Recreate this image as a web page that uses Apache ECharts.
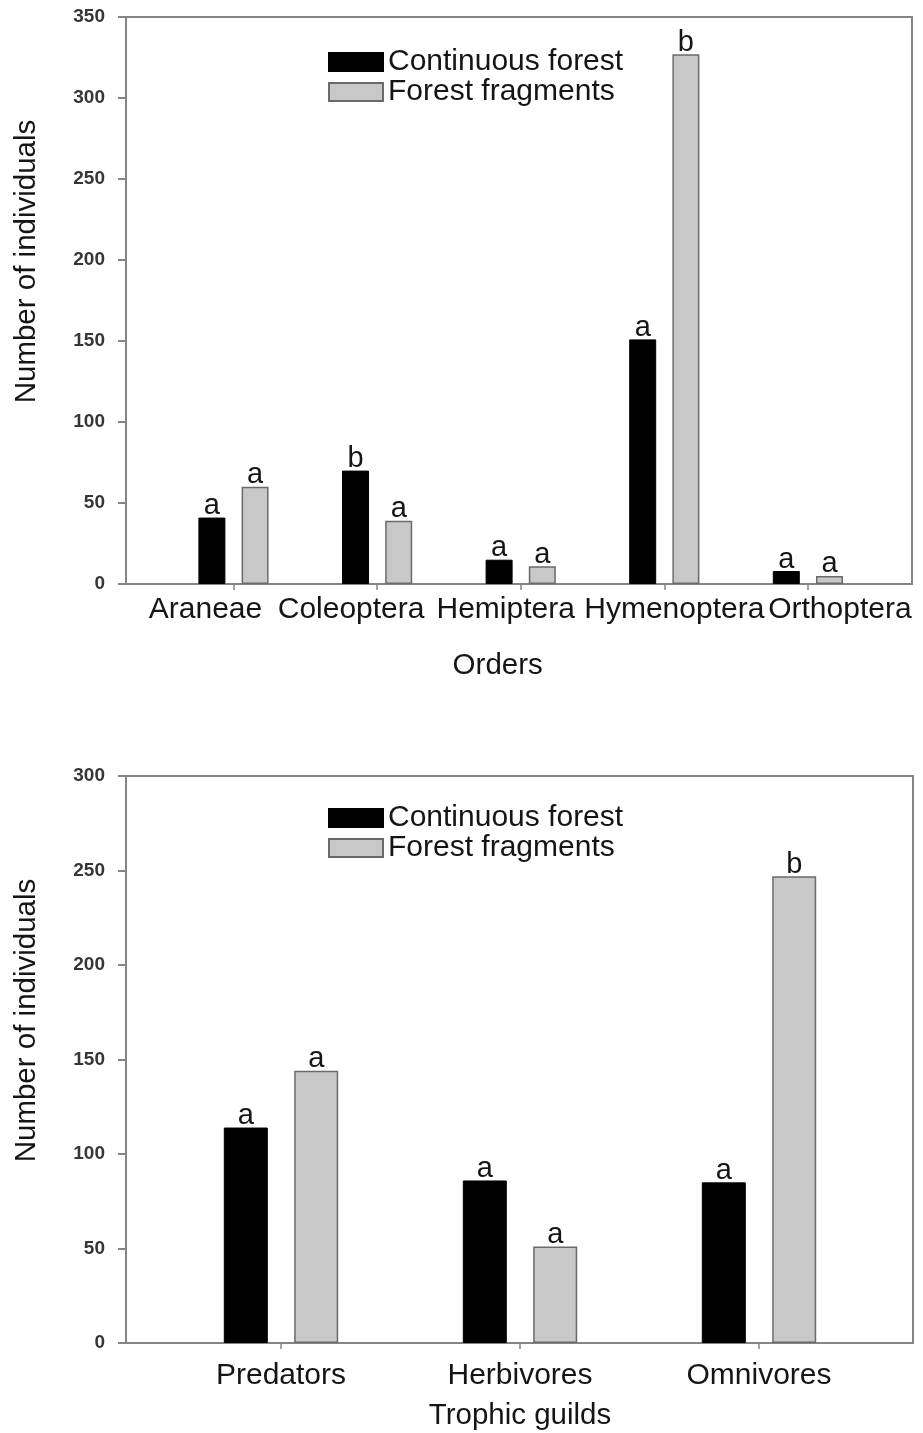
<!DOCTYPE html>
<html>
<head>
<meta charset="utf-8">
<script src="https://cdn.jsdelivr.net/npm/echarts@6/dist/echarts.min.js"></script>
<style>
html,body{margin:0;padding:0;background:#fff;}
#c{width:923px;height:1433px;}
</style>
</head>
<body>
<div id="c"></div>
<script>
// ---- Data ----
const seriesNames = ['Continuous forest', 'Forest fragments'];

const orders = ['Araneae', 'Coleoptera', 'Hemiptera', 'Hymenoptera', 'Orthoptera'];
const ordersContinuous = [41, 70, 15, 151, 8];
const ordersFragments = [60, 39, 11, 327, 5];
const ordersLettersContinuous = ['a', 'b', 'a', 'a', 'a'];
const ordersLettersFragments = ['a', 'a', 'a', 'b', 'a'];

const guilds = ['Predators', 'Herbivores', 'Omnivores'];
const guildsContinuous = [114, 86, 85];
const guildsFragments = [144, 51, 247];
const guildsLettersContinuous = ['a', 'a', 'a'];
const guildsLettersFragments = ['a', 'a', 'b'];

const ordersAxisMax = 350, ordersAxisStep = 50;
const guildsAxisMax = 300, guildsAxisStep = 50;

// ---- Styles ----
const FONT = '"Liberation Sans", Arial, sans-serif';
const AX = '#858585';
const TXT = '#151515';
// horizontal nudge (px) of each order label relative to its tick, as in the original layout
const ordersLabelNudge = [-28, -26, -15, 10, 32];

function nudgePadding(d) {
  return d < 0 ? [0, -2 * d, 0, 0] : [0, 0, 0, 2 * d];
}

function yAxisMain(gi, max, step) {
  return {
    type: 'value', gridIndex: gi, min: 0, max: max, interval: step,
    name: 'Number of individuals', nameLocation: 'middle', nameGap: 84,
    nameTextStyle: { fontFamily: FONT, fontSize: 29.5, color: TXT, padding: [0, 0, 0, 78] },
    axisLine: { show: true, lineStyle: { color: AX, width: 2 } },
    axisTick: { show: true, inside: false, length: 8, lineStyle: { color: AX, width: 2 } },
    axisLabel: { fontFamily: FONT, fontSize: 19, fontWeight: 'bold', color: '#363636', margin: 21 },
    splitLine: { show: false }
  };
}
function yAxisHidden(gi, max, step) {
  return { type: 'value', gridIndex: gi, min: 0, max: max, interval: step, show: false, splitLine: { show: false } };
}
function xAxisFrame(gi) {
  return { type: 'value', gridIndex: gi, min: 0, max: 1, show: false, splitLine: { show: false } };
}
function xAxisCat(gi, cats, name, labelMargin, nameGap, namePad, nudges) {
  const rich = {};
  let formatter = null;
  if (nudges) {
    cats.forEach((c, i) => {
      rich['c' + i] = { fontFamily: FONT, fontSize: 30, color: TXT, padding: nudgePadding(nudges[i]) };
    });
    formatter = (v, i) => '{c' + i + '|' + v + '}';
  }
  const lab = { interval: 0, fontFamily: FONT, fontSize: 30, color: TXT, margin: labelMargin };
  if (formatter) { lab.formatter = formatter; lab.rich = rich; }
  return {
    type: 'category', gridIndex: gi, data: cats,
    name: name, nameLocation: 'middle', nameGap: nameGap,
    nameTextStyle: { fontFamily: FONT, fontSize: 29.5, color: TXT, padding: namePad },
    axisLine: { show: false },
    axisTick: { show: true, alignWithLabel: true, length: 6, lineStyle: { color: AX, width: 1.5 } },
    axisLabel: lab,
    splitLine: { show: false }
  };
}
function barSeries(name, xi, yi, data, letters, width, gap) {
  const isCF = name === seriesNames[0];
  return {
    type: 'bar', name: name, xAxisIndex: xi, yAxisIndex: yi,
    data: data, barWidth: width, barGap: gap,
    itemStyle: isCF ? { color: '#000', borderColor: '#000', borderWidth: 1 }
                    : { color: '#c8c8c8', borderColor: '#6a6a6a', borderWidth: 1.5 },
    label: {
      show: true, position: 'top', distance: -3,
      fontFamily: FONT, fontSize: 29, color: TXT,
      formatter: p => letters[p.dataIndex]
    },
    emphasis: { disabled: true },
    animation: false
  };
}
function legend(top) {
  return {
    data: seriesNames, orient: 'vertical', left: 328, top: top, padding: 0,
    itemWidth: 54, itemHeight: 18, itemGap: 0,
    textStyle: { fontFamily: FONT, fontSize: 30, color: TXT, lineHeight: 28 },
    icon: 'rect', selectedMode: false
  };
}

const chart = echarts.init(document.getElementById('c'), null, { renderer: 'canvas' });
chart.setOption({
  backgroundColor: '#fff',
  animation: false,
  grid: [
    { left: 126, right: 11, top: 17, bottom: 849, show: true, borderColor: AX, borderWidth: 2, backgroundColor: 'transparent' },
    { left: 161.7, right: 43.3, top: 17, bottom: 849 },
    { left: 126, right: 10, top: 776, bottom: 90, show: true, borderColor: AX, borderWidth: 2, backgroundColor: 'transparent' },
    { left: 161.5, right: 44.5, top: 776, bottom: 90 }
  ],
  legend: [legend(47), legend(803)],
  xAxis: [
    xAxisFrame(0),
    xAxisCat(1, orders, 'Orders', 11, 67, [0, 46, 0, 0], ordersLabelNudge),
    xAxisFrame(2),
    xAxisCat(3, guilds, 'Trophic guilds', 18, 58, [0, 0, 0, 0], null)
  ],
  yAxis: [
    yAxisMain(0, ordersAxisMax, ordersAxisStep),
    yAxisHidden(1, ordersAxisMax, ordersAxisStep),
    yAxisMain(2, guildsAxisMax, guildsAxisStep),
    yAxisHidden(3, guildsAxisMax, guildsAxisStep)
  ],
  series: [
    barSeries(seriesNames[0], 1, 1, ordersContinuous, ordersLettersContinuous, 27, '60%'),
    barSeries(seriesNames[1], 1, 1, ordersFragments, ordersLettersFragments, 27, '60%'),
    barSeries(seriesNames[0], 3, 3, guildsContinuous, guildsLettersContinuous, 44, '60%'),
    barSeries(seriesNames[1], 3, 3, guildsFragments, guildsLettersFragments, 44, '60%')
  ]
});
</script>
</body>
</html>
